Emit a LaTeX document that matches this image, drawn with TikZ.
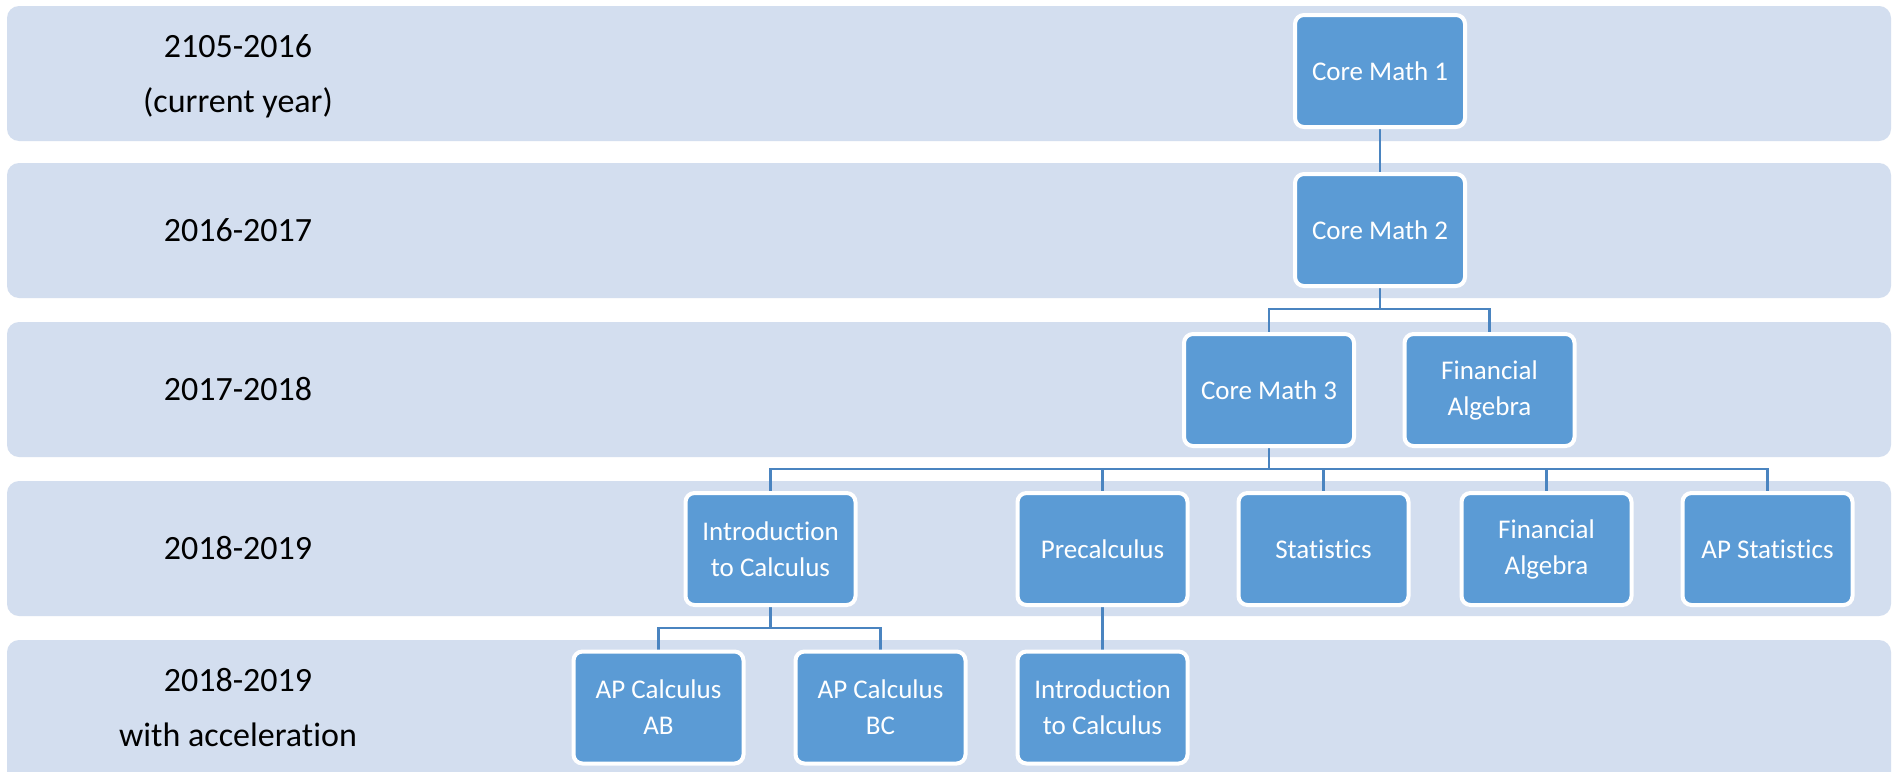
\documentclass[tikz,border=0pt]{standalone}
\usepackage{fontspec}
\setmainfont[Ligatures=NoCommon]{Carlito}
\definecolor{bandc}{HTML}{D3DEEF}
\definecolor{boxc}{HTML}{5B9BD5}
\definecolor{linec}{HTML}{4A84C0}
\pgfdeclarelayer{bg}
\pgfdeclarelayer{mid}
\pgfsetlayers{bg,mid,main}
\tikzset{
  band/.style={fill=bandc, draw=none, rounded corners=12pt},
  yearlabel/.style={align=center, text=black, font=\fontsize{34}{55}\selectfont},
  course/.style={rectangle, rounded corners=9pt, fill=boxc, draw=white, line width=4pt,
    minimum width=170pt, minimum height=112pt, text=white, align=center,
    font=\fontsize{27}{36}\selectfont, inner sep=0pt},
  link/.style={draw=linec, line width=2.6pt}
}
\begin{document}
\begin{tikzpicture}[x=1pt,y=-1pt]
\useasboundingbox (0,0) rectangle (1895,771);
\begin{pgfonlayer}{bg}
\fill[white] (0,0) rectangle (1895,771);
\begin{scope}
\clip (0,0) rectangle (1895,771);
\path[band] (7,6) rectangle (1891,141);
\path[band] (7,163) rectangle (1891,298);
\path[band] (7,322) rectangle (1891,457);
\path[band] (7,481) rectangle (1891,616);
\path[band] (7,640) rectangle (1891,785);
\end{scope}
\end{pgfonlayer}

\node[yearlabel] (y1) at (238,76) {2105-2016\\(current year)};
\node[yearlabel] (y2) at (238,230.5) {2016-2017};
\node[yearlabel] (y3) at (238,389.5) {2017-2018};
\node[yearlabel] (y4) at (238,548.5) {2018-2019};
\node[yearlabel] (y5) at (238,708) {2018-2019\\with acceleration};

\node[course] (cm1) at (1380,71) {Core Math 1};
\node[course] (cm2) at (1380,230) {Core Math 2};
\node[course] (cm3) at (1269,390) {Core Math 3};
\node[course] (fa1) at (1489.5,390) {Financial\\Algebra};
\node[course] (ic)  at (770.5,549) {Introduction\\to Calculus};
\node[course] (pc)  at (1102.5,549) {Precalculus};
\node[course] (st)  at (1323.5,549) {Statistics};
\node[course] (fa2) at (1546.5,549) {Financial\\Algebra};
\node[course] (aps) at (1767.5,549) {AP Statistics};
\node[course] (ab)  at (658.5,707.5) {AP Calculus\\AB};
\node[course] (bc)  at (880.5,707.5) {AP Calculus\\BC};
\node[course] (ic2) at (1102.5,707.5) {Introduction\\to Calculus};

\coordinate (f2) at (1380,309);
\coordinate (f3) at (1269,469);
\coordinate (f4) at (770.5,628);

\begin{pgfonlayer}{mid}
\draw[link] (cm1.south) -- (cm2.north);
\draw[link] (cm2.south) -- (f2) -| (cm3.north);
\draw[link] (f2) -| (fa1.north);
\draw[link] (cm3.south) -- (f3) -| (ic.north);
\draw[link] (f3) -| (pc.north);
\draw[link] (f3) -| (st.north);
\draw[link] (f3) -| (fa2.north);
\draw[link] (f3) -| (aps.north);
\draw[link] (ic.south) -- (f4) -| (ab.north);
\draw[link] (f4) -| (bc.north);
\draw[link] (pc.south) -- (ic2.north);
\end{pgfonlayer}
\end{tikzpicture}
\end{document}
